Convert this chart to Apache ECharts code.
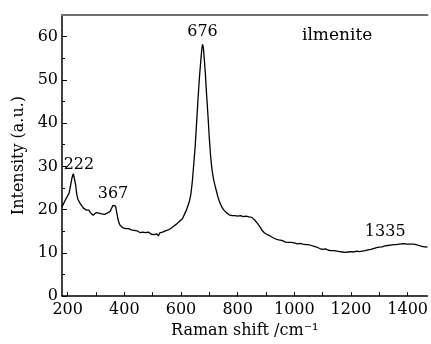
<!DOCTYPE html>
<html><head><meta charset="utf-8">
<script src="https://cdn.jsdelivr.net/npm/echarts@6/dist/echarts.min.js"></script>
<style>html,body{margin:0;padding:0;background:#fff}#c{width:431px;height:344px}</style>
</head><body><div id="c"></div>
<script>
const shifts = [180,185,190,195,200,205,210,215,220,224,228,232,236,240,245,250,255,260,265,270,275,280,285,290,295,300,305,310,315,320,325,330,335,340,345,350,355,360,365,369,373,377,381,385,390,395,400,405,410,415,420,425,430,435,440,445,450,455,460,465,470,475,480,485,490,495,500,505,510,515,520,525,530,535,540,545,550,555,560,565,570,575,580,585,590,595,600,605,610,615,620,625,630,635,640,645,650,655,660,665,670,673,676,679,682,686,690,695,700,705,710,715,720,725,730,735,740,745,750,755,760,765,770,775,780,790,800,810,820,830,840,850,855,860,865,870,875,880,885,890,895,900,905,910,915,920,925,930,935,940,945,950,955,960,970,980,990,1000,1010,1020,1030,1040,1050,1060,1070,1080,1090,1100,1110,1120,1130,1140,1150,1160,1170,1180,1190,1200,1210,1220,1230,1240,1250,1260,1270,1280,1290,1300,1310,1320,1330,1340,1350,1360,1370,1380,1390,1400,1410,1420,1430,1440,1450,1460,1470];
const intensity = [20.6,21.3,22.0,22.6,23.2,23.8,25.5,27.3,28.3,27.9,25.8,23.6,22.4,21.9,21.3,21.0,20.4,20.1,19.9,19.6,19.9,19.3,19.0,18.7,19.1,19.3,19.0,19.2,19.4,19.0,19.1,18.9,18.8,19.2,19.4,19.6,20.3,21.0,21.4,20.8,19.4,18.0,17.0,16.4,16.0,15.8,15.9,15.6,15.4,15.6,15.2,15.3,15.0,15.2,14.9,15.1,15.0,14.7,15.0,14.8,14.9,14.7,14.6,14.8,14.5,14.3,14.6,14.2,14.0,14.4,13.9,14.6,15.0,14.8,15.2,15.1,15.3,15.3,15.5,15.7,16.0,16.2,16.5,16.7,17.0,17.3,17.6,17.9,18.6,19.3,20.0,21.0,22.0,23.6,26.5,30.5,34.5,40.0,45.5,50.5,54.5,56.8,58.2,57.5,55.0,51.5,47.0,42.0,36.5,32.0,29.0,27.0,25.6,24.3,23.0,22.0,21.2,20.5,20.0,19.6,19.3,19.0,18.8,18.8,18.6,18.6,18.5,18.6,18.4,18.5,18.3,18.2,17.9,17.6,17.2,16.8,16.4,15.9,15.3,14.9,14.6,14.5,14.2,14.0,13.9,13.7,13.5,13.3,13.2,13.1,13.0,12.8,12.9,12.7,12.5,12.4,12.4,12.3,12.1,12.2,12.0,11.9,11.9,11.7,11.5,11.3,11.0,10.8,10.9,10.6,10.5,10.5,10.4,10.3,10.2,10.1,10.2,10.3,10.2,10.4,10.3,10.4,10.5,10.7,10.8,11.0,11.2,11.3,11.4,11.6,11.7,11.8,11.9,11.9,12.0,12.1,12.1,12.0,12.0,12.0,11.9,11.7,11.5,11.4,11.3];
const xTicks = [200,400,600,800,1000,1200,1400];
const xMinorTicks = [200,300,400,500,600,700,800,900,1000,1100,1200,1300,1400];
const yTicks = [0,10,20,30,40,50,60];
const yMinorTicks = [5,15,25,35,45,55];
const peakLabels = ['222','367','676','1335'];
const peakX = [222,367,676,1335];
const peakY = [28.3,21.4,58.2,11.8];
const sampleName = 'ilmenite';

const FONT = 'DejaVu Serif';
const data = shifts.map((s,i)=>[s,intensity[i]]);
const labelOffsets = [[5,-9],[-2,-10],[0,-13],[-4,-13]];
const chart = echarts.init(document.getElementById('c'));
chart.setOption({
  animation:false,
  backgroundColor:'#fff',
  grid:{left:62,right:0,top:15,bottom:47},
  xAxis:[{
    type:'value',min:180,max:1470,position:'bottom',
    name:'Raman shift /cm\u207B\u00B9',nameLocation:'middle',nameGap:23,
    nameTextStyle:{fontFamily:FONT,fontSize:16,color:'#000'},
    axisLine:{onZero:false,lineStyle:{color:'#000',width:1.5}},
    axisTick:{inside:true,length:4,customValues:xMinorTicks,lineStyle:{color:'#000',width:1}},
    axisLabel:{customValues:xTicks,formatter:v=>String(v),fontFamily:FONT,fontSize:16,color:'#000',margin:6},
    splitLine:{show:false}
  },{
    type:'value',min:180,max:1470,position:'top',
    axisLine:{show:true,onZero:false,lineStyle:{color:'#707070',width:2}},
    axisTick:{show:false},axisLabel:{show:false},splitLine:{show:false}
  }],
  yAxis:[{
    type:'value',min:0,max:65,position:'left',
    name:'Intensity (a.u.)',nameLocation:'middle',nameGap:32,nameRotate:90,
    nameTextStyle:{fontFamily:FONT,fontSize:16,color:'#000'},
    axisLine:{show:true,onZero:false,lineStyle:{color:'#000',width:1.5}},
    axisTick:{inside:true,length:5,customValues:yTicks,lineStyle:{color:'#000',width:1}},
    axisLabel:{customValues:yTicks,formatter:v=>String(v),fontFamily:FONT,fontSize:16,color:'#000',margin:4},
    splitLine:{show:false}
  },{
    type:'value',min:0,max:65,position:'left',
    axisLine:{show:false,onZero:false},
    axisTick:{show:true,inside:true,length:3,customValues:yMinorTicks,lineStyle:{color:'#000',width:1}},
    axisLabel:{show:false},splitLine:{show:false}
  }],
  series:[{
    type:'line',xAxisIndex:0,yAxisIndex:0,data:data,
    showSymbol:false,symbol:'none',
    lineStyle:{color:'#000',width:1.3},
    markPoint:{
      symbol:'circle',symbolSize:0,
      data:peakLabels.map((t,i)=>({
        coord:[peakX[i],peakY[i]],value:t,
        label:{show:true,formatter:t,position:'inside',offset:labelOffsets[i],
          fontFamily:FONT,fontSize:16,color:'#000'}
      }))
    }
  }],
  graphic:[{
    type:'text',left:302,top:27,
    style:{text:sampleName,font:'17px "DejaVu Serif"',fill:'#000'}
  }]
});
</script></body></html>
